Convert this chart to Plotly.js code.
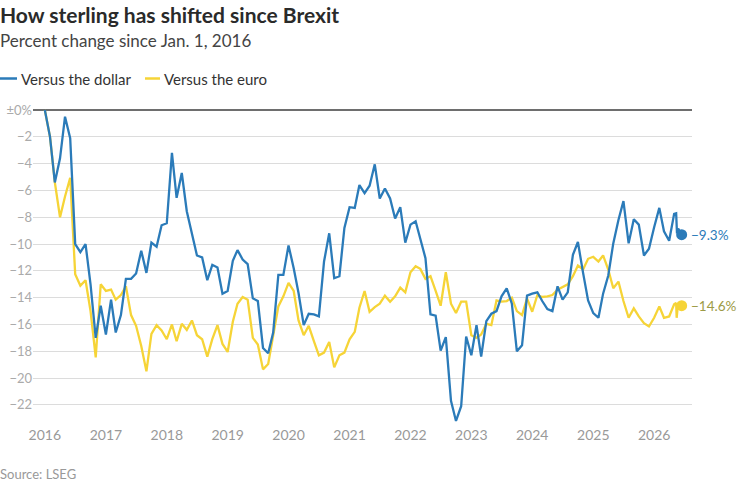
<!DOCTYPE html>
<html>
<head>
<meta charset="utf-8">
<script src="https://cdn.plot.ly/plotly-3.0.1.min.js"></script>
<style>html,body{margin:0;padding:0;background:#fff;}#chart{width:737px;height:482px;}</style>
</head>
<body>
<div id="chart"></div>
<script>
// Monthly series, starting Jan 2016 (percent change since Jan. 1, 2016)
const startYear = 2016;
const dollar = [
  0, -2.0, -5.4, -3.6, -0.5, -2.1, -10.0, -10.6, -10.0, -13.0, -17.0, -14.6,
  -16.75, -14.15, -16.6, -15.3, -12.6, -12.6, -12.2, -10.5, -12.15, -9.9, -10.2, -8.6,
  -8.45, -3.2, -6.55, -4.7, -7.55, -9.3, -10.85, -11.0, -12.7, -11.55, -11.75, -13.7,
  -13.5, -11.25, -10.45, -11.15, -11.5, -14.05, -14.25, -17.75, -18.15, -16.6, -12.3, -12.3,
  -10.1, -11.8, -13.65, -16.05, -15.2, -15.25, -15.4, -11.3, -9.2, -12.55, -12.4, -8.8,
  -7.25, -7.3, -5.6, -6.2, -5.65, -4.05, -6.6, -5.85, -6.6, -8.1, -7.25, -9.9,
  -8.55, -8.3, -9.6, -11.05, -15.25, -15.35, -17.95, -16.95, -21.7, -23.2, -22.1, -16.9,
  -18.3, -16.05, -18.4, -15.75, -15.2, -15.0, -13.9, -13.3, -14.45, -18.0, -17.55, -13.85,
  -13.7, -13.6, -14.25, -14.85, -15.0, -13.15, -14.15, -13.6, -10.8, -9.85, -12.15, -14.2,
  -15.15, -15.5, -13.7, -12.35, -9.95, -8.2, -6.8, -9.95, -8.15, -8.55, -10.85, -10.35,
  -8.75, -7.3, -9.05, -9.75, -7.75
];
const euro = [
  0, -2.0, -5.4, -8.0, -6.45, -5.05, -12.25, -13.1, -12.7, -15.0, -18.45, -13.0,
  -13.5, -13.4, -14.15, -13.8, -13.15, -15.3, -16.1, -17.6, -19.5, -16.7, -16.05, -16.45,
  -17.1, -16.0, -17.25, -15.95, -16.4, -15.7, -16.8, -17.1, -18.4, -17.1, -16.05, -17.45,
  -18.05, -15.8, -14.45, -13.95, -14.15, -17.0, -17.5, -19.35, -18.95, -16.75, -14.65, -13.9,
  -12.9, -13.5, -15.7, -16.8, -16.1, -17.25, -18.3, -18.1, -17.3, -19.2, -18.3, -18.1,
  -17.1, -16.55, -14.75, -13.5, -15.05, -14.7, -14.45, -13.85, -14.3, -13.9, -13.25, -13.6,
  -12.1, -11.65, -11.85, -12.6, -12.4, -13.5, -14.6, -12.1, -14.45, -15.15, -14.3, -14.3,
  -16.8, -17.0, -16.75, -15.95, -16.05, -14.2, -14.3, -14.25, -14.0, -15.0, -15.3, -14.05,
  -15.05, -13.8, -13.95, -13.9, -13.8, -13.4, -13.2, -13.0, -12.4, -11.6, -11.9, -11.1,
  -10.95, -11.3, -10.85, -11.9, -13.3, -12.8, -14.25, -15.5, -14.8, -15.4, -15.9, -16.15,
  -15.5, -14.65, -15.5, -15.4, -14.5
];
// Latest daily readings after the last monthly point
const dollarTailDates = ["2026-05-13", "2026-05-18", "2026-05-25", "2026-06-15"];
const dollarTail = [-7.7, -9.2, -8.85, -9.3];
const euroTailDates = ["2026-05-13", "2026-05-16", "2026-05-22", "2026-06-15"];
const euroTail = [-14.4, -15.5, -14.75, -14.6];

const yearTicks = [2016, 2017, 2018, 2019, 2020, 2021, 2022, 2023, 2024, 2025, 2026];
const yTickVals = [0, -2, -4, -6, -8, -10, -12, -14, -16, -18, -20, -22];
const yTickText = ["±0%", "−2", "−4", "−6", "−8", "−10", "−12", "−14", "−16", "−18", "−20", "−22"];
const dollarLabel = "−9.3%";
const euroLabel = "−14.6%";

const BLUE = "#2b7bb9";
const YELLOW = "#f6d437";
const FONT = "Lato, 'Open Sans', sans-serif";

function monthDates(n) {
  const out = [];
  for (let i = 0; i < n; i++) {
    const d = new Date(Date.UTC(startYear, i, 1));
    out.push(d.toISOString().slice(0, 10));
  }
  return out;
}
const dDates = monthDates(dollar.length).concat(dollarTailDates);
const dVals = dollar.concat(dollarTail);
const eDates = monthDates(euro.length).concat(euroTailDates);
const eVals = euro.concat(euroTail);

const traces = [
  {x: eDates, y: eVals, type: "scatter", mode: "lines", line: {color: YELLOW, width: 2.3}, hoverinfo: "skip"},
  {x: dDates, y: dVals, type: "scatter", mode: "lines", line: {color: BLUE, width: 2.3}, hoverinfo: "skip"},
  {x: [eDates[eDates.length - 1]], y: [eVals[eVals.length - 1]], type: "scatter", mode: "markers",
   marker: {color: YELLOW, size: 11}, hoverinfo: "skip"},
  {x: [dDates[dDates.length - 1]], y: [dVals[dVals.length - 1]], type: "scatter", mode: "markers",
   marker: {color: BLUE, size: 11}, hoverinfo: "skip"}
];

// pixel helpers for paper coords
const ML = 33, MR = 45, MT = 106, MB = 57, W = 737, H = 482;
const PW = W - ML - MR, PH = H - MT - MB;
const px = x => (x - ML) / PW;
const py = y => (H - MB - y) / PH;

const layout = {
  width: W, height: H,
  margin: {l: ML, r: MR, t: MT, b: MB, pad: 0},
  paper_bgcolor: "#fff", plot_bgcolor: "#fff",
  showlegend: false,
  font: {family: FONT, color: "#333"},
  xaxis: {
    type: "date",
    range: ["2015-10-22", "2026-08-16"],
    tickvals: yearTicks.map(y => y + "-01-01"),
    ticktext: yearTicks.map(String),
    showgrid: false, zeroline: false, showline: false, ticks: "",
    tickfont: {family: FONT, size: 14, color: "#999"},
    fixedrange: true
  },
  yaxis: {
    range: [-23.5, 0.3],
    tickvals: yTickVals, ticktext: yTickText,
    showgrid: true, gridcolor: "#dcdcdc", gridwidth: 1,
    zeroline: true, zerolinecolor: "#6e6e6e", zerolinewidth: 2,
    showline: false, ticks: "",
    tickfont: {family: FONT, size: 13, color: "#aaa"},
    fixedrange: true
  },
  shapes: [
    {type: "line", xref: "paper", yref: "paper", x0: px(0), x1: px(17), y0: py(78.5), y1: py(78.5), line: {color: BLUE, width: 2.5}},
    {type: "line", xref: "paper", yref: "paper", x0: px(145), x1: px(160), y0: py(78.5), y1: py(78.5), line: {color: YELLOW, width: 2.5}}
  ],
  annotations: [
    {xref: "paper", yref: "paper", x: px(-2), y: py(14), xanchor: "left", yanchor: "middle", showarrow: false,
     text: "<b>How sterling has shifted since Brexit</b>", font: {family: FONT, size: 21, color: "#2a2a2a"}},
    {xref: "paper", yref: "paper", x: px(-2), y: py(41), xanchor: "left", yanchor: "middle", showarrow: false,
     text: "Percent change since Jan. 1, 2016", font: {family: FONT, size: 17, color: "#444"}},
    {xref: "paper", yref: "paper", x: px(19), y: py(79), xanchor: "left", yanchor: "middle", showarrow: false,
     text: "Versus the dollar", font: {family: FONT, size: 15, color: "#333"}},
    {xref: "paper", yref: "paper", x: px(162), y: py(79), xanchor: "left", yanchor: "middle", showarrow: false,
     text: "Versus the euro", font: {family: FONT, size: 15, color: "#333"}},
    {xref: "paper", yref: "paper", x: px(-2), y: py(474), xanchor: "left", yanchor: "middle", showarrow: false,
     text: "Source: LSEG", font: {family: FONT, size: 13, color: "#999"}},
    {x: dDates[dDates.length - 1], y: dVals[dVals.length - 1], xanchor: "left", yanchor: "middle", xshift: 7,
     showarrow: false, text: dollarLabel, font: {family: FONT, size: 13.5, color: BLUE}},
    {x: eDates[eDates.length - 1], y: eVals[eVals.length - 1], xanchor: "left", yanchor: "middle", xshift: 7,
     showarrow: false, text: euroLabel, font: {family: FONT, size: 13.5, color: "#9c9a45"}}
  ]
};

Plotly.newPlot("chart", traces, layout, {displayModeBar: false, staticPlot: true});
</script>
</body>
</html>
